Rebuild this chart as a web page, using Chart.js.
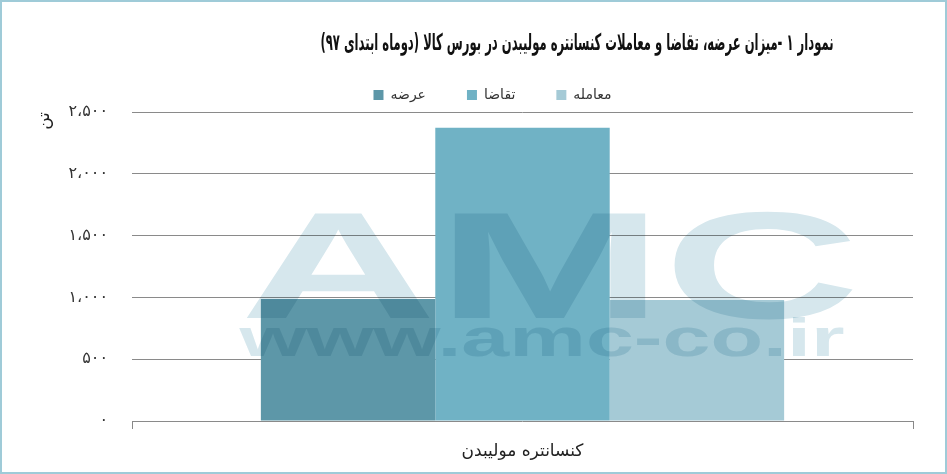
<!DOCTYPE html>
<html>
<head>
<meta charset="utf-8">
<script src="https://cdn.jsdelivr.net/npm/chart.js@4.4.1/dist/chart.umd.min.js"></script>
<style>
  html, body { margin: 0; padding: 0; background: #fff; }
  #wrap { position: relative; width: 947px; height: 474px; box-sizing: border-box; border: 2px solid #9fcbd8; }
  canvas { display: block; }
</style>
</head>
<body>
<div id="wrap"><canvas id="c" width="943" height="470"></canvas></div>
<script>
const chartTitle = 'نمودار ۱ -میزان عرضه، تقاضا و معاملات کنسانتره مولیبدن در بورس کالا (دوماه ابتدای ۹۷)';
const categories = ['کنسانتره مولیبدن'];
const seriesNames = ['عرضه', 'تقاضا', 'معامله'];
const supplyValues = [988];
const demandValues = [2372];
const tradeValues = [978];
const seriesColors = ['#5d97a8', '#70b2c5', '#a5cad6'];
const yTicks = [0, 500, 1000, 1500, 2000, 2500];
const yUnit = 'تن';
const watermarkBig = 'AMC';
const watermarkSmall = 'www.amc-co.ir';

function toPersian(n) {
  const s = Math.round(n).toString().replace(/\B(?=(\d{3})+(?!\d))/g, '،');
  return s.replace(/\d/g, d => '۰۱۲۳۴۵۶۷۸۹'[d]);
}

const FONT = '"DejaVu Sans", sans-serif';

function drawStretched(ctx, text, font, cx, baseline, targetW) {
  ctx.font = font;
  const w = ctx.measureText(text).width;
  const sx = targetW / w;
  ctx.save();
  ctx.translate(cx, baseline);
  ctx.scale(sx, 1);
  ctx.textAlign = 'center';
  ctx.textBaseline = 'alphabetic';
  ctx.fillText(text, 0, 0);
  ctx.restore();
}

function drawWatermark(ctx, a) {
  drawStretched(ctx, watermarkBig, 'bold 152px "Liberation Sans", Arial, sans-serif', a.left + 418, a.top + 206, 620);
  drawStretched(ctx, watermarkSmall, 'bold 54px "Liberation Sans", Arial, sans-serif', a.left + 410, a.top + 244, 605);
}

const decorPlugin = {
  id: 'decor',
  afterLayout(chart) {
    const lg = chart.legend;
    if (lg) { lg.left += 35; lg.right += 35; }
  },
  afterDatasetsDraw(chart) {
    const {ctx, chartArea: a} = chart;
    ctx.save();
    ctx.beginPath();
    ctx.rect(a.left, a.top, a.right - a.left, a.bottom - a.top);
    ctx.clip();
    ctx.globalCompositeOperation = 'multiply';
    ctx.fillStyle = '#d6e7ed';
    drawWatermark(ctx, a);
    ctx.restore();
  },
  afterDraw(chart) {
    const {ctx, chartArea: a} = chart;
    // title
    ctx.save();
    ctx.fillStyle = '#111';
    ctx.direction = 'rtl';
    drawStretched(ctx, chartTitle, 'bold 23px "DejaVu Sans Condensed", "DejaVu Sans", sans-serif', 575, 48, 513);
    ctx.restore();
    // unit label
    ctx.save();
    ctx.translate(a.left - 87, a.top + 9);
    ctx.rotate(-Math.PI / 2);
    ctx.font = '17px ' + FONT;
    ctx.fillStyle = '#222';
    ctx.textAlign = 'center';
    ctx.textBaseline = 'middle';
    ctx.fillText(yUnit, 0, 0);
    ctx.restore();
  }
};

new Chart(document.getElementById('c'), {
  type: 'bar',
  data: {
    labels: categories,
    datasets: [
      { label: seriesNames[0], data: supplyValues, backgroundColor: seriesColors[0] },
      { label: seriesNames[1], data: demandValues, backgroundColor: seriesColors[1] },
      { label: seriesNames[2], data: tradeValues, backgroundColor: seriesColors[2] }
    ]
  },
  options: {
    responsive: false,
    animation: false,
    layout: { padding: { left: 0, right: 32, top: 45, bottom: 0 } },
    datasets: { bar: { barPercentage: 1, categoryPercentage: 0.67 } },
    plugins: {
      title: { display: false },
      legend: {
        display: true,
        position: 'top',
        labels: {
          color: '#333',
          font: { family: FONT, size: 14 },
          boxWidth: 10, boxHeight: 10,
          padding: 41
        }
      },
      tooltip: { enabled: false }
    },
    scales: {
      x: {
        offset: true,
        grid: { display: true, drawOnChartArea: false, drawTicks: true, tickLength: 8, color: '#888', offset: true },
        border: { display: false },
        ticks: { color: '#222', font: { family: FONT, size: 17 }, padding: 12 },
        afterFit(s) { s.height = 51; }
      },
      y: {
        min: 0, max: 2500,
        z: 1,
        afterBuildTicks(s) { s.ticks = yTicks.map(v => ({ value: v })); },
        grid: { color: '#8a8a8a', drawTicks: false, lineWidth: 1 },
        border: { display: false },
        ticks: {
          color: '#333',
          font: { family: FONT, size: 16 },
          padding: 24,
          callback: v => toPersian(v)
        },
        afterFit(s) { s.width = 130; }
      }
    }
  },
  plugins: [decorPlugin]
});
</script>
</body>
</html>
